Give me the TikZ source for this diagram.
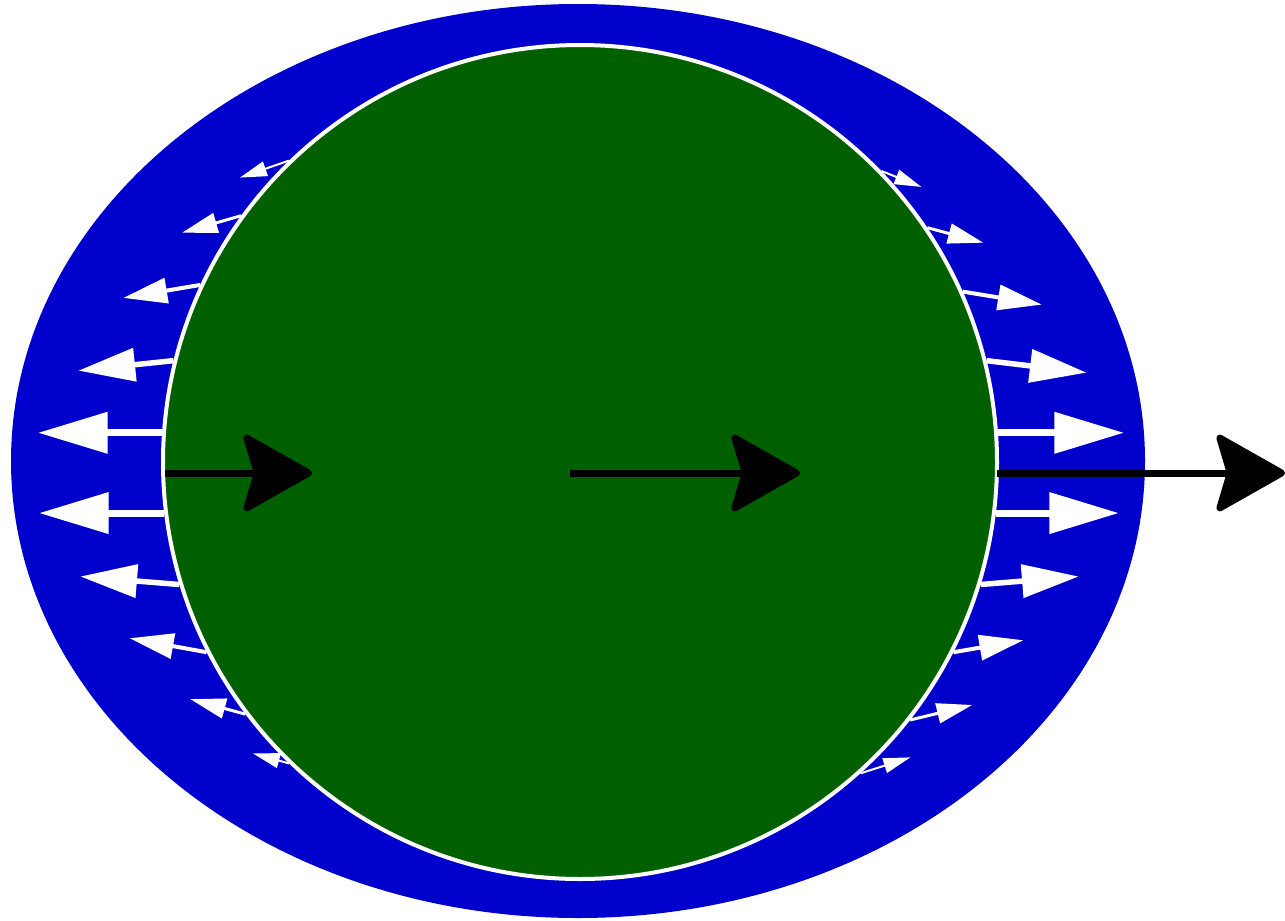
\documentclass[tikz,border=0pt]{standalone}
\usetikzlibrary{arrows.meta}
\definecolor{shellblue}{RGB}{0,0,204}
\definecolor{coregreen}{RGB}{0,96,0}

\begin{document}
\begin{tikzpicture}[
        x=0.01cm, y=0.01cm,
        shell/.style={fill=shellblue},
        core/.style={circle, fill=coregreen, draw=white, line width=0.04cm, inner sep=0pt},
        flow/.style={draw=white, line width=#1*0.01cm, -{Triangle[length=0.1cm 8.5, width=0.05cm 5]}},
        drift/.style={draw=black, line width=0.07cm, -{Stealth[length=0.74cm, width=0.83cm, inset=0.12cm, round]}},
    ]

    \def \corer {417};

    \useasboundingbox (0,0) rectangle (1285,920);

    % Outer shell and the ball inside it
    \fill[shell] (578,459) ellipse [x radius=567, y radius=457];
    \node[core, minimum size=2*\corer*0.01cm] (ball) at (580,458) {};

    % White arrows on the left side
    \foreach \ang/\dx/\dy/\lw in {134.3/-49/-17/2, 144.8/-59/-17/3, 155.8/-77/-13/4,
            166/-95/-10/5.5, 176.6/-124/0/7, 187/-125/0/7, 197/-99/8/5.5,
            207.6/-77/14/4, 217.6/-55/15/3, 226.1/-36/10/2}
        \draw[flow=\lw] (ball.\ang) -- ++(\dx,\dy);

    % White arrows on the right side
    \foreach \ang/\dx/\dy/\lw in {44.7/40/-16/2, 34.7/56/-15/3, 24.2/79/-13/4,
            14.3/100/-12/5.5, 4.4/126/0/7, 353.2/123/0/7, 343.1/98/8/5.5,
            333.1/70/12/4, 322/62/15/3, 312/50/16/2}
        \draw[flow=\lw] (ball.\ang) -- ++(\dx,\dy);

    % Black arrows along the axis
    \coordinate (A1) at (165,447);
    \coordinate (B1) at (312,447);
    \coordinate (A2) at (570,447);
    \coordinate (B2) at (800,447);
    \coordinate (A3) at (997,447);
    \coordinate (B3) at (1285,447);

    \draw[drift] (A1) -- (B1);
    \draw[drift] (A2) -- (B2);
    \draw[drift] (A3) -- (B3);
\end{tikzpicture}
\end{document}
